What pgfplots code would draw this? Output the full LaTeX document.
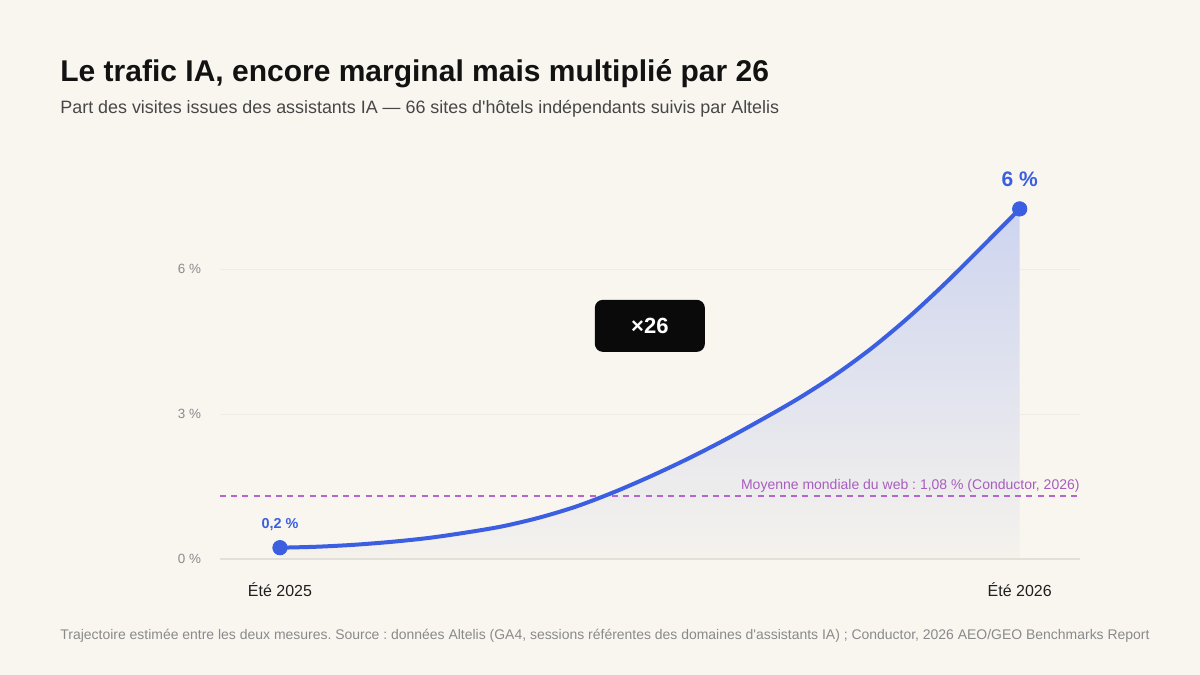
\documentclass[border=0pt]{standalone}
\usepackage{pgfplots}
\pgfplotsset{compat=1.18}
\usepackage{fontspec}
\setmainfont{Liberation Sans}
\frenchspacing
\definecolor{bg}{HTML}{F9F6F0}
\definecolor{lineblue}{HTML}{3B5FE0}
\definecolor{fillblue}{HTML}{CDD4EF}
\definecolor{avgpurple}{HTML}{B565CF}
\definecolor{gridc}{HTML}{EFEBE5}
\definecolor{zeroc}{HTML}{E3DFD9}
\definecolor{tickc}{HTML}{8A8A8A}
\newcommand{\fs}[1]{\fontsize{#1}{#1}\selectfont}

% estimated trajectory (share of visits, %)
\newcommand{\traj}{
    (0,0.24) (0.05,0.26) (0.1,0.30) (0.15,0.36) (0.2,0.44) (0.25,0.55)
    (0.3,0.68) (0.35,0.86) (0.4,1.09) (0.45,1.38) (0.5,1.71) (0.55,2.07)
    (0.6,2.46) (0.65,2.88) (0.7,3.32) (0.75,3.81) (0.8,4.37) (0.85,5.01)
    (0.9,5.72) (0.95,6.48) (1,7.25)}

\begin{document}
\begin{tikzpicture}
\fill[bg] (0,0) rectangle (600pt,337.5pt);
\node[anchor=base west, inner sep=0, text=black!93] at (30pt,296.5pt)
  {\fs{15pt}\bfseries Le trafic IA, encore marginal mais multiplié par 26};
\node[anchor=base west, inner sep=0, text=black!72] at (30pt,280.5pt)
  {\fs{8.95pt}Part des visites issues des assistants IA — 66 sites d\textquotesingle hôtels indépendants suivis par Altelis};
\node[anchor=base west, inner sep=0, text=tickc] at (30pt,17.5pt)
  {\fs{6.98pt}Trajectoire estimée entre les deux mesures. Source : données Altelis (GA4, sessions référentes des domaines d\textquotesingle assistants IA) ; Conductor, 2026 AEO/GEO Benchmarks Report};

\begin{axis}[
    at={(110pt,57.85pt)}, anchor=south west,
    scale only axis,
    width=430pt, height=181.25pt,
    xmin=-0.0811, xmax=1.0815,
    ymin=0, ymax=7.5,
    axis line style={draw=none},
    tick style={draw=none},
    clip=false,
    xtick={0,1},
    xticklabels={Été 2025, Été 2026},
    ytick={0,3,6},
    yticklabels={0 \%, 3 \%, 6 \%},
    ymajorgrids=true,
    grid style={gridc, line width=0.6pt},
    major tick length=0pt,
    tick label style={font=\fs{6.7pt}, text=tickc},
    xticklabel style={font=\fs{8pt}, text=black!88, yshift=-8pt},
    yticklabel style={xshift=-6pt},
]
% shaded area under the curve
\addplot[draw=none, smooth, top color=fillblue, bottom color=bg!92!gray!40!bg,
         shading angle=0] coordinates {\traj} \closedcycle;
% zero baseline
\addplot[zeroc, line width=1.1pt] coordinates {(-0.0811,0) (1.0815,0)};
% global web average
\addplot[avgpurple, line width=0.8pt, dash pattern=on 3pt off 2.6pt]
    coordinates {(-0.0811,1.31) (1.0815,1.31)};
\node[anchor=base east, inner sep=0, text=avgpurple!92!black, font=\fs{7pt}]
    at (axis cs:1.0815,1.31) [yshift=3.2pt] {Moyenne mondiale du web : 1,08 \% (Conductor, 2026)};
% trajectory
\addplot[lineblue, line width=2pt, smooth] coordinates {\traj};
\addplot[only marks, mark=*, mark size=3.6pt, lineblue] coordinates {(0,0.24) (1,7.25)};
\node[text=lineblue, font=\fs{7.2pt}\bfseries, inner sep=0] at (axis cs:0,0.24) [yshift=11.5pt] {0,2 \%};
\node[text=lineblue, font=\fs{10.5pt}\bfseries, inner sep=0] at (axis cs:1,7.25) [yshift=15pt] {6 \%};
% multiplier badge
\node[fill=black!96, rounded corners=4pt, minimum width=55pt, minimum height=26pt,
      text=white, font=\fs{11pt}\bfseries] at (axis cs:0.5,4.83) {×26};
\end{axis}
\end{tikzpicture}
\end{document}
